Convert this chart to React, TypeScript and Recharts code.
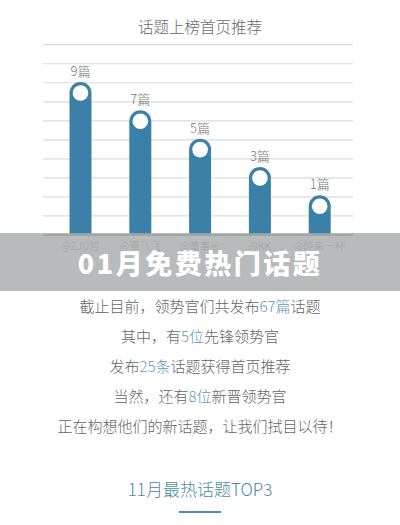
import React from 'react';
import { BarChart, Bar, XAxis, YAxis, CartesianGrid, LabelList } from 'recharts';

const authors = ['@ZJU哲', '@覃飞飞', '@董事长', '@KK', '@醉来一杯'];
const topicCounts = [9, 7, 5, 3, 1];
const gridTicks = [0, 1, 2, 3, 4, 5, 6, 7, 8, 9, 10];
const gridMax = 10.3;

const data = authors.map((name, i) => ({ name, value: topicCounts[i] }));

const FONT = '"Noto Sans CJK SC", "Noto Sans", sans-serif';
const BLUE = '#3b80a6';
const HL = '#5b9bb8';

// round-topped bar with a white dot in the cap
const PillBar: React.FC<any> = (props) => {
  const { x, y, width, height, background } = props;
  const bottom = background ? background.y + background.height : y + height;
  const r = width / 2;
  const d = `M${x},${bottom} L${x},${y + r} A${r},${r} 0 0 1 ${x + width},${y + r} L${x + width},${bottom} Z`;
  return (
    <g>
      <path d={d} fill={BLUE} />
      <circle cx={x + r} cy={y + r} r={r - 3.2} fill="#fff" />
    </g>
  );
};

// evenly spaced guide lines, independent of the bar scale
const gridLines = ({ yAxis, offset }: any) => {
  if (yAxis && yAxis.scale && yAxis.yAxisId === 'grid') {
    return gridTicks.map((t) => yAxis.scale(t));
  }
  return gridTicks.map((t) => offset.top + offset.height * (1 - t / gridMax));
};

const Hl: React.FC<{ children: React.ReactNode }> = ({ children }) => (
  <span style={{ color: HL }}>{children}</span>
);

const App: React.FC = () => {
  return (
    <div
      style={{
        position: 'absolute',
        left: 0,
        top: 0,
        width: 400,
        height: 525,
        background: '#fff',
        fontFamily: FONT,
        fontWeight: 300,
        overflow: 'hidden',
      }}
    >
      <div
        style={{
          position: 'absolute',
          top: 15,
          width: 400,
          textAlign: 'center',
          fontSize: 15.5,
          color: '#6a6a6a',
          lineHeight: '22px',
        }}
      >
        话题上榜首页推荐
      </div>

      <div style={{ position: 'absolute', left: 0, top: 0 }}>
        <BarChart
          width={400}
          height={270}
          data={data}
          margin={{ top: 39, right: 47, bottom: 5, left: 43 }}
          barSize={22}
        >
          <CartesianGrid
            vertical={false}
            horizontalCoordinatesGenerator={gridLines}
            stroke="#dcdcdc"
            strokeWidth={1.2}
          />
          <YAxis
            yAxisId="val"
            width={0}
            domain={[-1.81, 12.04]}
            allowDataOverflow
            tick={false}
            tickLine={false}
            axisLine={{ stroke: '#a0a0a0', strokeWidth: 2 }}
          />
          <XAxis
            dataKey="name"
            height={30}
            padding={{ left: 7.5, right: 3.5 }}
            tickLine={false}
            axisLine={{ stroke: '#a8a8a8', strokeWidth: 2 }}
            tick={{ fill: '#9a9a9a', fontSize: 10.5, fontFamily: FONT }}
            interval={0}
          />
          <Bar yAxisId="val" dataKey="value" shape={<PillBar />} isAnimationActive={false}>
            <LabelList
              dataKey="value"
              position="top"
              offset={6}
              formatter={(v: any) => `${v}篇`}
              style={{ fill: '#7a7a7a', fontSize: 13, fontFamily: FONT, fontWeight: 300 }}
            />
          </Bar>
        </BarChart>
      </div>

      <div
        style={{
          position: 'absolute',
          left: 0,
          top: 233,
          width: 400,
          height: 58,
          background: 'rgba(160,165,167,0.76)',
          display: 'flex',
          alignItems: 'center',
          justifyContent: 'center',
          color: '#fff',
          fontWeight: 900,
          fontSize: 27,
          letterSpacing: 2.5,
        }}
      >
        01月免费热门话题
      </div>

      <div
        style={{
          position: 'absolute',
          left: 0,
          top: 291,
          width: 400,
          textAlign: 'center',
          fontSize: 15,
          lineHeight: '30px',
          color: '#666',
        }}
      >
        <div>
          截止目前，领势官们共发布<Hl>67篇</Hl>话题
        </div>
        <div>
          其中，有<Hl>5位</Hl>先锋领势官
        </div>
        <div>
          发布<Hl>25条</Hl>话题获得首页推荐
        </div>
        <div>
          当然，还有<Hl>8位</Hl>新晋领势官
        </div>
        <div>正在构想他们的新话题，让我们拭目以待！</div>
      </div>

      <div
        style={{
          position: 'absolute',
          left: 0,
          top: 477,
          width: 400,
          textAlign: 'center',
          fontSize: 17,
          lineHeight: '24px',
          color: '#4d8aa6',
        }}
      >
        11月最热话题TOP3
      </div>
      <div
        style={{
          position: 'absolute',
          left: 179,
          top: 511,
          width: 42,
          height: 2,
          background: '#4d8fae',
        }}
      />
    </div>
  );
};

export default App;
